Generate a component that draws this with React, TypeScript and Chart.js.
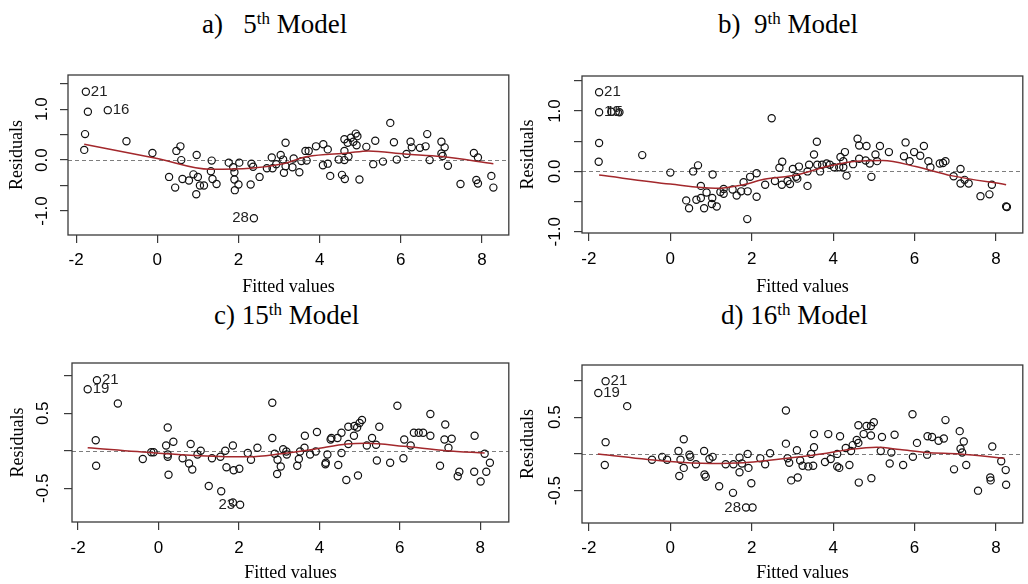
import React, { useEffect, useRef } from 'react';
import { Chart, registerables } from 'chart.js';

Chart.register(...registerables);

type P = [number, number];
type IdLabel = { x: number; y: number; text: string; side: 'left' | 'right' };

// ---------- Panel a) 5th Model: [fitted value, residual] ----------
const residA: P[] = [
  [-1.76, 1.34], [-1.71, 0.95], [-1.22, 0.98], [-1.78, 0.51], [-1.80, 0.20], [-0.76, 0.37], [-0.12, 0.14],
  [0.57, 0.27], [0.47, 0.18], [0.59, 0.00], [0.97, 0.10], [1.34, -0.01], [1.32, -0.22], [0.29, -0.33],
  [0.44, -0.54], [0.62, -0.37], [0.78, -0.40], [0.89, -0.28], [1.00, -0.33], [0.96, -0.67], [1.05, -0.50],
  [1.15, -0.50], [1.36, -0.37], [1.46, -0.47], [1.76, -0.05], [1.87, -0.14], [2.02, -0.05], [1.90, -0.24],
  [1.90, -0.38], [2.00, -0.48], [1.91, -0.59], [2.30, -0.48], [2.32, -0.07], [2.36, -0.13], [2.52, -0.33],
  [2.38, -1.14], [2.70, -0.16], [2.84, -0.16], [2.82, 0.05], [2.93, -0.08], [3.04, 0.10], [3.10, 0.01],
  [3.16, 0.34], [3.12, -0.25], [3.16, -0.12], [3.33, -0.14], [3.36, 0.03], [3.50, -0.24], [3.55, -0.02],
  [3.65, 0.18], [3.73, 0.18], [3.68, -0.01], [3.91, 0.27], [4.09, 0.31], [4.20, 0.21], [4.08, -0.10],
  [4.20, -0.07], [4.26, -0.31], [4.47, 0.01], [4.61, 0.41], [4.69, 0.34], [4.77, 0.44], [4.89, 0.52],
  [4.93, 0.47], [4.83, 0.36], [4.91, 0.29], [4.61, 0.18], [4.61, 0.00], [4.71, 0.07], [4.55, -0.29],
  [4.62, -0.37], [4.98, -0.38], [5.15, 0.26], [5.32, -0.08], [5.37, 0.38], [5.56, -0.03], [5.74, 0.73],
  [5.83, 0.35], [5.90, 0.01], [6.14, 0.12], [6.24, 0.36], [6.27, 0.25], [6.47, 0.24], [6.61, 0.27],
  [6.65, 0.51], [6.71, 0.00], [7.00, 0.36], [7.08, 0.25], [7.00, 0.13], [7.03, 0.08], [7.16, -0.11],
  [7.47, -0.47], [7.80, 0.14], [7.90, 0.05], [7.86, -0.39], [7.90, -0.46], [8.23, -0.31], [8.28, -0.54],
];
const smoothA: P[] = [
  [-1.8, 0.31], [0, 0.03], [1.3, -0.18], [2.3, -0.16], [3.1, -0.07], [3.7, 0.07], [4.7, 0.14],
  [5.2, 0.18], [6.1, 0.12], [7.0, 0.07], [8.28, -0.07],
];
const idsA: IdLabel[] = [
  { x: -1.76, y: 1.34, text: '21', side: 'right' },
  { x: -1.22, y: 0.98, text: '16', side: 'right' },
  { x: 2.38, y: -1.14, text: '28', side: 'left' },
];

// ---------- Panel b) 9th Model ----------
const residB: P[] = [
  [-1.75, 1.31], [-1.75, 0.98], [-1.45, 0.99], [-1.25, 0.98], [-1.75, 0.47], [-1.76, 0.16], [-0.69, 0.27],
  [0.00, -0.02], [0.56, 0.00], [0.68, 0.10], [1.04, -0.05], [0.75, -0.24], [0.89, -0.35], [0.39, -0.48],
  [0.46, -0.61], [0.64, -0.47], [0.75, -0.44], [0.83, -0.61], [1.03, -0.44], [1.02, -0.54], [1.14, -0.58],
  [1.23, -0.34], [1.31, -0.37], [1.31, -0.29], [1.53, -0.30], [1.63, -0.40], [1.74, -0.33], [1.80, -0.18],
  [1.90, -0.33], [1.89, -0.79], [1.96, -0.09], [2.12, -0.03], [2.12, -0.42], [2.33, -0.22], [2.49, 0.88],
  [2.57, -0.16], [2.68, 0.06], [2.75, 0.16], [2.74, -0.22], [2.88, -0.16], [2.94, -0.21], [3.01, 0.04],
  [3.09, -0.09], [3.12, -0.12], [3.16, 0.08], [3.37, -0.24], [3.37, 0.00], [3.41, 0.11], [3.53, 0.28],
  [3.60, 0.49], [3.61, 0.11], [3.68, 0.00], [3.73, 0.11], [3.84, 0.13], [3.92, 0.11], [4.02, 0.07],
  [4.15, 0.07], [4.18, 0.24], [4.29, 0.32], [4.25, 0.17], [4.25, 0.07], [4.33, -0.07], [4.49, 0.12],
  [4.60, 0.54], [4.64, 0.43], [4.64, 0.21], [4.82, 0.42], [4.80, 0.18], [4.90, 0.13], [4.94, -0.09],
  [5.04, 0.28], [5.08, 0.17], [5.15, 0.42], [5.37, 0.32], [5.74, 0.25], [5.78, 0.48], [5.88, 0.17],
  [5.99, 0.32], [6.14, 0.26], [6.23, 0.42], [6.34, 0.17], [6.39, 0.07], [6.62, 0.13], [6.70, 0.14],
  [6.76, 0.17], [6.96, -0.08], [7.13, 0.04], [7.13, -0.20], [7.23, -0.14], [7.33, -0.20], [7.62, -0.41],
  [7.84, -0.38], [7.90, -0.22], [8.25, -0.58], [8.27, -0.59],
];
const smoothB: P[] = [
  [-1.75, -0.06], [0, -0.21], [1.1, -0.28], [1.8, -0.22], [2.3, -0.13], [3.1, -0.06], [3.84, 0.08],
  [4.57, 0.17], [5.22, 0.18], [6.03, 0.08], [6.9, -0.07], [8.25, -0.22],
];
const idsB: IdLabel[] = [
  { x: -1.75, y: 1.31, text: '21', side: 'right' },
  { x: -1.75, y: 0.98, text: '19', side: 'right' },
  { x: -1.70, y: 0.99, text: '15', side: 'right' },
];

// ---------- Panel c) 15th Model ----------
const residC: P[] = [
  [-1.53, 0.94], [-1.76, 0.82], [-1.01, 0.63], [-1.56, 0.14], [-1.55, -0.20], [-0.39, -0.11], [-0.18, -0.02],
  [-0.12, -0.02], [0.23, 0.31], [0.19, 0.07], [0.37, 0.12], [0.23, -0.05], [0.23, -0.08], [0.25, -0.32],
  [0.60, -0.10], [0.80, 0.09], [0.76, -0.17], [0.84, -0.25], [0.97, -0.05], [1.05, 0.00], [1.33, -0.10],
  [1.25, -0.47], [1.54, -0.08], [1.66, 0.00], [1.85, 0.07], [1.69, -0.22], [1.87, -0.26], [2.01, -0.24],
  [1.56, -0.54], [1.85, -0.69], [2.03, -0.72], [2.22, -0.03], [2.30, -0.12], [2.46, 0.04], [2.83, 0.64],
  [2.83, 0.17], [2.89, -0.04], [2.96, -0.12], [3.04, -0.21], [2.95, -0.31], [3.10, 0.02], [3.18, -0.01],
  [3.19, -0.05], [3.45, -0.20], [3.49, -0.11], [3.52, -0.01], [3.63, 0.04], [3.64, 0.20], [3.77, -0.05],
  [3.91, -0.01], [3.94, 0.25], [4.20, -0.05], [4.16, -0.16], [4.15, -0.18], [4.28, 0.15], [4.30, 0.17],
  [4.45, 0.17], [4.47, -0.19], [4.55, 0.24], [4.55, -0.03], [4.67, -0.39], [4.72, 0.32], [4.72, 0.09],
  [4.86, 0.20], [4.87, 0.33], [4.94, 0.31], [5.00, 0.37], [5.06, 0.41], [4.96, -0.33], [5.18, 0.07],
  [5.31, 0.17], [5.41, 0.08], [5.49, 0.32], [5.43, -0.13], [5.76, -0.16], [5.94, 0.60], [6.09, -0.10],
  [6.11, 0.15], [6.27, 0.07], [6.35, 0.24], [6.47, 0.24], [6.58, 0.24], [6.76, 0.20], [6.76, 0.49],
  [7.00, -0.20], [7.13, 0.35], [7.11, 0.15], [7.29, 0.16], [7.21, 0.04], [7.44, -0.34], [7.48, -0.28],
  [7.86, 0.20], [7.85, -0.28], [8.01, -0.41], [8.11, -0.04], [8.15, -0.28], [8.24, -0.16],
];
const smoothC: P[] = [
  [-1.76, 0.04], [-0.06, -0.03], [1.83, -0.08], [2.24, -0.08], [3.05, -0.04], [3.87, 0.02], [4.69, 0.09],
  [5.18, 0.10], [6.09, 0.06], [7.15, 0.0], [8.11, -0.03],
];
const idsC: IdLabel[] = [
  { x: -1.53, y: 0.94, text: '21', side: 'right' },
  { x: -1.76, y: 0.82, text: '19', side: 'right' },
  { x: 2.03, y: -0.72, text: '23', side: 'left' },
];

// ---------- Panel d) 16th Model ----------
const residD: P[] = [
  [-1.59, 0.99], [-1.77, 0.83], [-1.06, 0.65], [-1.59, 0.16], [-1.61, -0.15], [-0.45, -0.08], [-0.20, -0.04],
  [-0.08, -0.08], [0.20, 0.04], [0.33, 0.20], [0.25, -0.08], [0.22, -0.30], [0.33, -0.19], [0.47, -0.01],
  [0.49, -0.04], [0.63, -0.14], [0.83, 0.04], [0.84, -0.28], [0.87, -0.31], [0.96, -0.07], [1.04, -0.04],
  [1.20, -0.44], [1.36, -0.14], [1.54, -0.53], [1.55, -0.14], [1.70, -0.05], [1.70, -0.25], [1.76, -0.13],
  [1.90, 0.00], [1.92, -0.19], [1.99, -0.40], [1.86, -0.73], [2.02, -0.73], [2.21, -0.06], [2.33, -0.14],
  [2.45, 0.01], [2.84, 0.59], [2.84, 0.14], [2.88, -0.06], [2.92, -0.12], [2.97, -0.36], [3.11, 0.05],
  [3.13, -0.32], [3.19, -0.09], [3.25, -0.16], [3.39, -0.17], [3.46, 0.00], [3.51, -0.16], [3.53, 0.09],
  [3.53, 0.27], [3.80, -0.11], [3.88, 0.27], [3.94, -0.07], [4.10, 0.00], [4.10, -0.17], [4.15, -0.19],
  [4.17, 0.24], [4.31, 0.08], [4.40, -0.15], [4.44, 0.04], [4.48, 0.12], [4.58, 0.19], [4.62, 0.15],
  [4.62, 0.39], [4.75, 0.27], [4.63, -0.39], [4.82, 0.38], [4.93, 0.38], [4.93, 0.25], [5.00, 0.43],
  [4.94, -0.33], [5.17, 0.04], [5.20, 0.23], [5.39, -0.13], [5.43, 0.02], [5.51, 0.26], [5.72, -0.15],
  [5.95, 0.54], [5.96, -0.04], [6.06, 0.15], [6.31, -0.01], [6.32, 0.24], [6.43, 0.23], [6.59, 0.18],
  [6.72, 0.21], [6.76, 0.46], [6.97, -0.21], [7.11, 0.31], [7.13, 0.07], [7.17, 0.02], [7.21, 0.17],
  [7.27, -0.15], [7.56, -0.50], [7.86, -0.32], [7.87, -0.36], [7.91, 0.10], [8.13, -0.10], [8.24, -0.22],
  [8.25, -0.42],
];
const smoothD: P[] = [
  [-1.78, 0.0], [-0.08, -0.10], [0.98, -0.13], [1.80, -0.12], [2.21, -0.10], [3.02, -0.05], [3.84, 0.01],
  [4.41, 0.06], [5.07, 0.09], [5.64, 0.06], [6.29, 0.02], [7.11, 0.0], [8.21, -0.06],
];
const idsD: IdLabel[] = [
  { x: -1.59, y: 0.99, text: '21', side: 'right' },
  { x: -1.77, y: 0.83, text: '19', side: 'right' },
  { x: 1.86, y: -0.73, text: '28', side: 'left' },
];

// ---------- tick labels ----------
const yLabelsTop = [1, 0, -1];
const yLabelsBottom = [0.5, -0.5];

const PANELS = [
  { points: residA, smooth: smoothA, ids: idsA, yLabels: yLabelsTop,
    left: 0, top: 60, w: 514, h: 240, padTop: 15, padRight: 2, yWidth: 68, xHeight: 65,
    xMin: -2.2, xMax: 8.66, yMin: -1.47, yMax: 1.67, yLabelX: 42, yTitlePad: 6, xTitlePad: 2, xTickPad: 7 },
  { points: residB, smooth: smoothB, ids: idsB, yLabels: yLabelsTop,
    left: 514, top: 60, w: 514, h: 240, padTop: 16, padRight: 4, yWidth: 68, xHeight: 67,
    xMin: -2.17, xMax: 8.66, yMin: -1.02, yMax: 1.58, yLabelX: 41, yTitlePad: 3, xTitlePad: 2, xTickPad: 8 },
  { points: residC, smooth: smoothC, ids: idsC, yLabels: yLabelsBottom,
    left: 0, top: 345, w: 514, h: 239, padTop: 18, padRight: 1, yWidth: 72, xHeight: 62,
    xMin: -2.15, xMax: 8.71, yMin: -0.95, yMax: 1.17, yLabelX: 43, yTitlePad: 7, xTitlePad: 0, xTickPad: 8 },
  { points: residD, smooth: smoothD, ids: idsD, yLabels: yLabelsBottom,
    left: 514, top: 345, w: 514, h: 239, padTop: 20, padRight: 5, yWidth: 68, xHeight: 61,
    xMin: -2.17, xMax: 8.66, yMin: -0.94, yMax: 1.21, yLabelX: 41, yTitlePad: 3, xTitlePad: 0, xTickPad: 7 },
];

const TITLES = [
  { left: 202, top: 11, pre: 'a)   5', sup: 'th', post: ' Model' },
  { left: 718, top: 11, pre: 'b)  9', sup: 'th', post: ' Model' },
  { left: 214, top: 302, pre: 'c) 15', sup: 'th', post: ' Model' },
  { left: 721, top: 302, pre: 'd) 16', sup: 'th', post: ' Model' },
];

const SANS = '"Liberation Sans", Arial, sans-serif';
const SERIF = '"Liberation Serif", "Times New Roman", serif';

const rPlugin = {
  id: 'rstyle',
  beforeDatasetsDraw(chart: any) {
    const { ctx, chartArea: ca, scales } = chart;
    const y0 = Math.round(scales.y.getPixelForValue(0)) + 0.5;
    ctx.save();
    ctx.strokeStyle = '#7d7d7d';
    ctx.lineWidth = 1;
    ctx.setLineDash([4, 3]);
    ctx.beginPath();
    ctx.moveTo(ca.left, y0);
    ctx.lineTo(ca.right, y0);
    ctx.stroke();
    ctx.restore();
  },
  afterDraw(chart: any, _args: any, o: any) {
    const { ctx, chartArea: ca, scales } = chart;
    ctx.save();
    ctx.strokeStyle = '#3a3a3a';
    ctx.lineWidth = 1.3;
    ctx.strokeRect(ca.left, ca.top, ca.right - ca.left, ca.bottom - ca.top);
    ctx.fillStyle = '#000';
    ctx.font = `17px ${SANS}`;
    ctx.textAlign = 'center';
    ctx.textBaseline = 'middle';
    for (const v of o.yLabels as number[]) {
      const py = scales.y.getPixelForValue(v);
      ctx.save();
      ctx.translate(o.yLabelX, py);
      ctx.rotate(-Math.PI / 2);
      ctx.fillText(v.toFixed(1), 0, 0);
      ctx.restore();
    }
    ctx.font = `15px ${SANS}`;
    ctx.fillStyle = '#222';
    for (const l of o.ids as IdLabel[]) {
      const px = scales.x.getPixelForValue(l.x);
      const py = scales.y.getPixelForValue(l.y);
      ctx.textAlign = l.side === 'left' ? 'right' : 'left';
      ctx.fillText(l.text, l.side === 'left' ? px - 5 : px + 5, py);
    }
    ctx.restore();
  },
};

function makeConfig(p: any): any {
  const tickGrid = {
    display: true,
    drawOnChartArea: false,
    drawTicks: true,
    tickLength: 8,
    color: '#3a3a3a',
    lineWidth: 1.2,
  };
  return {
    type: 'scatter',
    data: {
      datasets: [
        {
          type: 'line',
          data: p.smooth.map(([x, y]: P) => ({ x, y })),
          borderColor: '#a3282c',
          borderWidth: 1.5,
          pointRadius: 0,
          cubicInterpolationMode: 'monotone',
          fill: false,
          order: 0,
        },
        {
          type: 'scatter',
          data: p.points.map(([x, y]: P) => ({ x, y })),
          pointRadius: 3.6,
          pointBorderWidth: 1.2,
          pointBorderColor: '#111',
          pointBackgroundColor: 'rgba(0,0,0,0)',
          borderColor: '#111',
          backgroundColor: 'rgba(0,0,0,0)',
          order: 1,
        },
      ],
    },
    options: {
      responsive: false,
      animation: false,
      events: [],
      layout: { padding: { left: 0, top: p.padTop, right: p.padRight, bottom: 0 } },
      plugins: {
        legend: { display: false },
        tooltip: { enabled: false },
        rstyle: { yLabels: p.yLabels, yLabelX: p.yLabelX, ids: p.ids },
      },
      scales: {
        x: {
          type: 'linear',
          position: 'bottom',
          min: p.xMin,
          max: p.xMax,
          afterFit: (s: any) => { s.height = p.xHeight; },
          ticks: {
            stepSize: 2,
            includeBounds: false,
            autoSkip: false,
            maxRotation: 0,
            padding: p.xTickPad,
            color: '#000',
            font: { family: SANS, size: 17 },
          },
          grid: tickGrid,
          border: { display: false },
          title: {
            display: true,
            text: 'Fitted values',
            color: '#000',
            font: { family: SERIF, size: 18 },
            padding: { top: 0, bottom: p.xTitlePad },
          },
        },
        y: {
          type: 'linear',
          position: 'left',
          min: p.yMin,
          max: p.yMax,
          afterFit: (s: any) => { s.width = p.yWidth; },
          ticks: { stepSize: 0.5, includeBounds: false, display: false },
          grid: tickGrid,
          border: { display: false },
          title: {
            display: true,
            text: 'Residuals',
            color: '#000',
            font: { family: SERIF, size: 18 },
            padding: { top: p.yTitlePad, bottom: 0 },
          },
        },
      },
    },
    plugins: [rPlugin],
  };
}

export default function App() {
  const refs = useRef<(HTMLCanvasElement | null)[]>([]);
  useEffect(() => {
    const charts = PANELS.map((p, i) => new Chart(refs.current[i] as HTMLCanvasElement, makeConfig(p)));
    return () => charts.forEach((c) => c.destroy());
  }, []);

  return (
    <div style={{ position: 'absolute', left: 0, top: 0, width: 1028, height: 584, background: '#fff', overflow: 'hidden' }}>
      {TITLES.map((t, i) => (
        <div
          key={i}
          style={{
            position: 'absolute',
            left: t.left,
            top: t.top,
            fontFamily: SERIF,
            fontSize: 27,
            lineHeight: '27px',
            color: '#000',
            whiteSpace: 'pre',
          }}
        >
          {t.pre}
          <span style={{ fontSize: 17, position: 'relative', top: -9 }}>{t.sup}</span>
          {t.post}
        </div>
      ))}
      {PANELS.map((p, i) => (
        <canvas
          key={i}
          ref={(el) => { refs.current[i] = el; }}
          width={p.w}
          height={p.h}
          style={{ position: 'absolute', left: p.left, top: p.top, width: p.w, height: p.h }}
        />
      ))}
    </div>
  );
}
